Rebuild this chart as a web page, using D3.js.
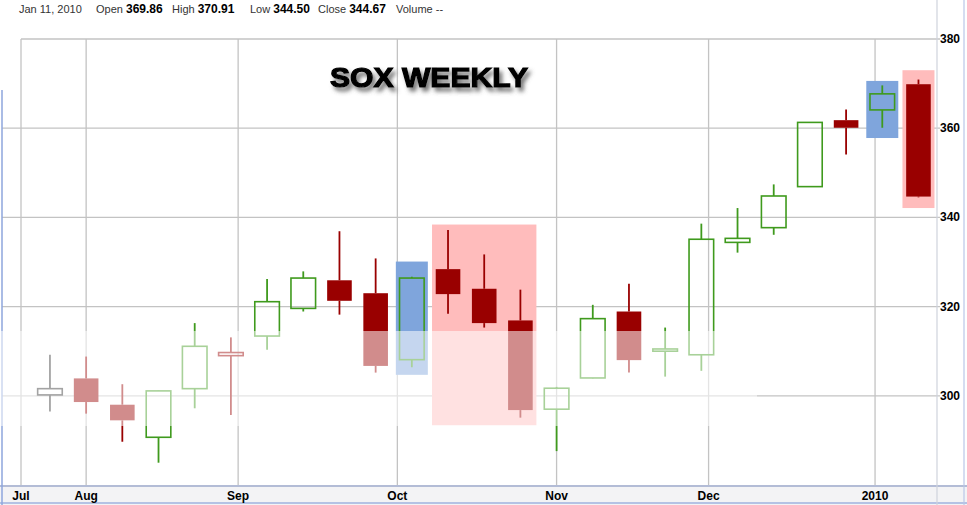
<!DOCTYPE html>
<html>
<head>
<meta charset="utf-8">
<script src="https://cdn.jsdelivr.net/npm/d3@7"></script>
<style>
  body { margin: 0; background: #fff; }
  svg { display: block; font-family: "Liberation Sans", Arial, sans-serif; }
</style>
</head>
<body>
<div class="canvas"></div>
<script>
// weekly candles, SOX index, Jul 2009 - Jan 2010
const weeks = ["2009-07-27","2009-08-03","2009-08-10","2009-08-17","2009-08-24","2009-08-31",
  "2009-09-07","2009-09-14","2009-09-21","2009-09-28","2009-10-05","2009-10-12","2009-10-19",
  "2009-10-26","2009-11-02","2009-11-09","2009-11-16","2009-11-23","2009-11-30","2009-12-07",
  "2009-12-14","2009-12-21","2009-12-28","2010-01-04","2010-01-11"];
const open  = [300.2, 303.9, 298.0, 290.7, 301.6, 309.0, 313.4, 319.6, 325.9, 323.0, 308.1, 328.4, 324.0,
  316.9, 297.0, 304.0, 318.9, 310.0, 309.2, 334.4, 337.7, 346.9, 361.8, 364.1, 369.86];
const high  = [309.2, 308.8, 302.6, 301.2, 316.3, 313.1, 326.2, 327.9, 336.9, 330.8, 326.7, 337.2, 331.7,
  323.8, 302.0, 320.4, 325.1, 315.3, 338.6, 342.1, 347.4, 361.4, 364.2, 369.6, 370.91];
const low   = [296.5, 296.0, 289.7, 285.0, 297.2, 295.7, 310.3, 318.9, 318.2, 305.2, 306.4, 318.4, 315.3,
  295.1, 287.6, 303.9, 305.2, 304.3, 305.6, 332.1, 336.1, 346.8, 354.1, 360.1, 344.50];
const close = [301.6, 298.6, 294.5, 301.1, 311.1, 309.7, 321.1, 326.4, 321.3, 306.7, 326.4, 322.8, 316.3,
  296.8, 301.7, 317.3, 308.0, 310.5, 335.1, 335.3, 344.8, 361.3, 360.1, 367.7, 344.67];

// month ticks (first weekday of each month) and their labels
const tickDates  = ["2009-07-21","2009-08-03","2009-09-01","2009-10-01","2009-11-02","2009-12-01","2010-01-01"];
const tickLabels = ["Jul","Aug","Sep","Oct","Nov","Dec","2010"];
const yTicks = [300, 320, 340, 360, 380];

// highlight boxes drawn on the chart (candle index range, price range)
const hlColor = ["blue", "pink", "blue", "pink"];
const hlFrom  = [10, 11, 23, 24];
const hlTo    = [10, 13, 23, 24];
const hlHi    = [330.1, 338.4, 370.6, 373.0];
const hlLo    = [304.7, 293.4, 357.8, 342.1];

const title = "SOX WEEKLY";

//------------------------ dims
const W = 967, H = 505;
const plot = { left: 21, right: 937, top: 39, bottom: 485 };

const svg = d3.select('.canvas').append('svg')
  .attr('width', W).attr('height', H);

// x position counts weekdays (weekends skipped), like the original chart
const parse = d3.utcParse('%Y-%m-%d');
const base = parse(weeks[0]);
const wdIndex = (s) => {
  const d = Math.round((parse(s) - base) / 864e5);
  const wk = Math.floor(d / 7);
  return wk * 5 + Math.min(d - wk * 7, 5);
};

const x = d3.scaleLinear()
  .domain([wdIndex(tickDates[0]), wdIndex(weeks[weeks.length - 1]) + 2.56])
  .range([plot.left, plot.right]);

const y = d3.scaleLinear()
  .domain([280, 380])
  .range([plot.bottom, plot.top]);

const step = x(5) - x(0);
const bodyW = step * 0.68;

const data = weeks.map((w, i) => ({
  i, w, o: open[i], h: high[i], l: low[i], c: close[i],
  prev: i > 0 ? close[i - 1] : null
}));

const GREEN = '#3f9a1d', RED = '#990000';
const colorOf = d => d.prev === null ? '#333' : (d.c >= d.prev ? GREEN : RED);

//------------------------ bottom axis band
svg.append('rect').attr('x', 0).attr('y', plot.bottom).attr('width', W).attr('height', H - plot.bottom)
  .attr('fill', '#f3f3f5');
svg.append('line').attr('x1', 0).attr('x2', W).attr('y1', plot.bottom + 1).attr('y2', plot.bottom + 1)
  .attr('stroke', '#b3bcd6').attr('stroke-width', 2);
svg.append('line').attr('x1', 0).attr('x2', W).attr('y1', H - 2).attr('y2', H - 2)
  .attr('stroke', '#9fb2de').attr('stroke-width', 1.5);

//------------------------ gridlines
const grid = svg.append('g').attr('stroke', '#c3c3c3').attr('stroke-width', 1.3);
grid.selectAll('line.h').data(yTicks).enter().append('line')
  .attr('x1', d => d === 380 ? plot.left : 2).attr('x2', plot.right + 3)
  .attr('y1', d => y(d)).attr('y2', d => y(d));
grid.selectAll('line.v').data(tickDates).enter().append('line')
  .attr('x1', d => x(wdIndex(d))).attr('x2', d => x(wdIndex(d)))
  .attr('y1', plot.top).attr('y2', plot.bottom);
svg.append('line').attr('x1', plot.right).attr('x2', plot.right)
  .attr('y1', plot.top - 39).attr('y2', H).attr('stroke', '#cfd3dc').attr('stroke-width', 1.2);
svg.append('line').attr('x1', 964).attr('x2', 964).attr('y1', 0).attr('y2', H)
  .attr('stroke', '#b9c7e8').attr('stroke-width', 1.2);
svg.append('line').attr('x1', 2).attr('x2', 2).attr('y1', 90).attr('y2', H)
  .attr('stroke', '#8ea6dc').attr('stroke-width', 1.5);

//------------------------ axis labels
svg.append('g').selectAll('text').data(tickDates).enter().append('text')
  .attr('x', d => x(wdIndex(d))).attr('y', 500)
  .attr('text-anchor', 'middle').attr('font-size', 12).attr('font-weight', 'bold')
  .text((d, i) => tickLabels[i]);

svg.append('g').selectAll('text').data(yTicks).enter().append('text')
  .attr('x', 940).attr('y', d => y(d) + 4)
  .attr('font-size', 12).attr('font-weight', 'bold')
  .text(d => d);

//------------------------ highlight boxes
svg.append('g').selectAll('rect').data(hlColor).enter().append('rect')
  .attr('x', (d, i) => x(wdIndex(weeks[hlFrom[i]])) - 16)
  .attr('width', (d, i) => x(wdIndex(weeks[hlTo[i]])) - x(wdIndex(weeks[hlFrom[i]])) + 32)
  .attr('y', (d, i) => y(hlHi[i]))
  .attr('height', (d, i) => y(hlLo[i]) - y(hlHi[i]))
  .attr('fill', d => d === 'blue' ? '#7fa5dc' : '#ffbcbc');

//------------------------ candles
const candles = svg.append('g').selectAll('g').data(data).enter().append('g')
  .attr('transform', d => `translate(${x(wdIndex(d.w))},0)`);

// upper and lower wick (only outside of the body)
candles.append('line')
  .attr('y1', d => y(d.h)).attr('y2', d => y(Math.max(d.o, d.c)))
  .attr('stroke', colorOf).attr('stroke-width', 1.8);
candles.append('line')
  .attr('y1', d => y(Math.min(d.o, d.c))).attr('y2', d => y(d.l))
  .attr('stroke', colorOf).attr('stroke-width', 1.8);

candles.append('rect')
  .attr('x', -bodyW / 2).attr('width', bodyW)
  .attr('y', d => y(Math.max(d.o, d.c)))
  .attr('height', d => Math.max(2, y(Math.min(d.o, d.c)) - y(Math.max(d.o, d.c))))
  .attr('fill', d => d.c < d.o ? colorOf(d) : 'none')
  .attr('stroke', colorOf)
  .attr('stroke-width', d => d.c < d.o ? 0 : 1.6);

//------------------------ faded watermark band of the original screenshot
svg.append('rect').attr('x', 0).attr('y', 331).attr('width', 757).attr('height', 95)
  .attr('fill', '#fff').attr('opacity', 0.55);

//------------------------ title with drop shadow
const defs = svg.append('defs');
defs.append('filter').attr('id', 'shadow')
  .attr('x', '-10%').attr('y', '-30%').attr('width', '130%').attr('height', '180%')
  .append('feDropShadow')
  .attr('dx', 3).attr('dy', 4).attr('stdDeviation', 2)
  .attr('flood-color', '#555').attr('flood-opacity', 0.8);

svg.append('text')
  .attr('x', 330).attr('y', 87)
  .attr('textLength', 198).attr('lengthAdjust', 'spacingAndGlyphs')
  .attr('font-size', 28).attr('font-weight', 'bold')
  .attr('stroke', '#000').attr('stroke-width', 1.2)
  .attr('filter', 'url(#shadow)')
  .text(title);

//------------------------ header line (last candle)
const last = data[data.length - 1];
const fmt = d3.format('.2f');
const header = svg.append('g').attr('font-size', 11).attr('fill', '#333');
header.append('text').attr('x', 19).attr('y', 13).text('Jan 11, 2010');
const fields = [["Open", last.o, 96], ["High", last.h, 172], ["Low", last.l, 250], ["Close", last.c, 318]];
fields.forEach(f => {
  const t = header.append('text').attr('x', f[2]).attr('y', 13);
  t.append('tspan').text(f[0] + ' ');
  t.append('tspan').attr('font-weight', 'bold').attr('fill', '#000').attr('font-size', 12).text(fmt(f[1]));
});
header.append('text').attr('x', 396).attr('y', 13).text('Volume --');
</script>
</body>
</html>
